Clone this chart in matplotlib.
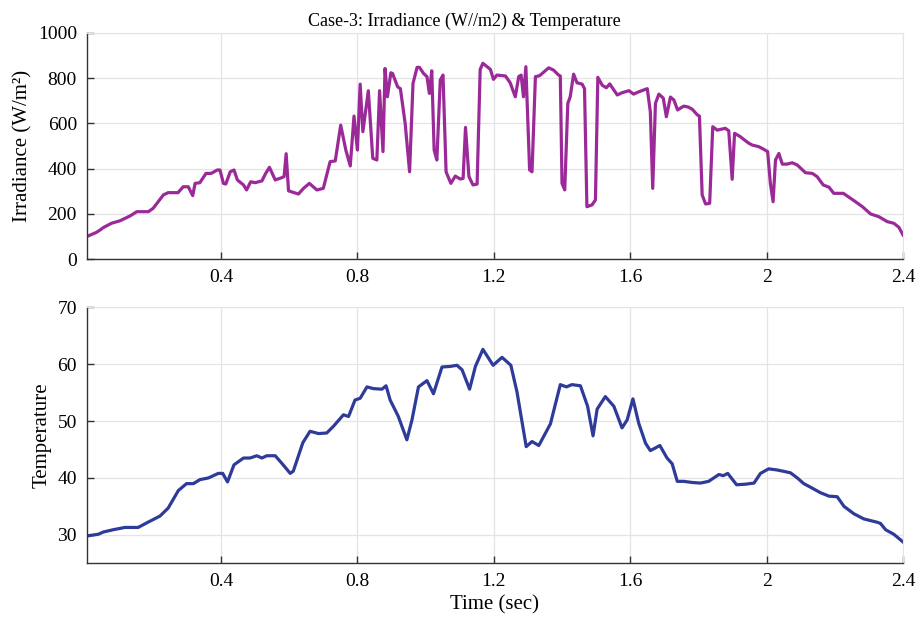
import numpy as np
import matplotlib
matplotlib.use("Agg")
import matplotlib.pyplot as plt

plt.rcParams['font.family'] = ['Liberation Serif', 'DejaVu Serif']

# irradiance (W/m2) vs time (sec)
irr_t = [0.006, 0.035, 0.045, 0.055, 0.079, 0.104, 0.133, 0.153, 0.187, 0.201,
         0.231, 0.245, 0.274, 0.289, 0.304, 0.317, 0.324, 0.338, 0.356, 0.371,
         0.389, 0.397, 0.407, 0.414, 0.427, 0.438, 0.448, 0.466, 0.475, 0.487,
         0.500, 0.520, 0.531, 0.542, 0.559, 0.578, 0.585, 0.591, 0.598, 0.627,
         0.642, 0.659, 0.681, 0.700, 0.720, 0.735, 0.751, 0.766, 0.779, 0.790,
         0.800, 0.808, 0.816, 0.832, 0.845, 0.857, 0.865, 0.875, 0.881, 0.888,
         0.898, 0.903, 0.918, 0.926, 0.940, 0.953, 0.963, 0.975, 0.982, 0.994,
         1.004, 1.011, 1.018, 1.025, 1.033, 1.043, 1.051, 1.060, 1.074, 1.087,
         1.102, 1.110, 1.117, 1.127, 1.139, 1.151, 1.160, 1.168, 1.190, 1.199,
         1.209, 1.234, 1.248, 1.263, 1.273, 1.280, 1.287, 1.294, 1.305, 1.312,
         1.322, 1.334, 1.361, 1.375, 1.390, 1.395, 1.400, 1.408, 1.417, 1.424,
         1.434, 1.444, 1.459, 1.466, 1.473, 1.488, 1.498, 1.505, 1.518, 1.530,
         1.540, 1.562, 1.576, 1.596, 1.610, 1.625, 1.650, 1.659, 1.666, 1.674,
         1.684, 1.697, 1.706, 1.718, 1.728, 1.739, 1.757, 1.770, 1.782, 1.797,
         1.803, 1.811, 1.821, 1.833, 1.842, 1.855, 1.879, 1.889, 1.899, 1.906,
         1.923, 1.938, 1.948, 1.958, 1.977, 1.992, 2.003, 2.011, 2.019, 2.026,
         2.036, 2.046, 2.060, 2.075, 2.090, 2.114, 2.134, 2.148, 2.166, 2.183,
         2.197, 2.225, 2.256, 2.281, 2.305, 2.329, 2.354, 2.373, 2.388, 2.400]
irr = [100, 119, 129, 140, 159, 170, 191, 210, 210, 225,
       284, 294, 294, 320, 320, 281, 335, 338, 379, 379,
       394, 394, 335, 332, 386, 394, 350, 328, 306, 342,
       338, 346, 379, 406, 350, 360, 365, 466, 302, 288,
       313, 335, 306, 313, 431, 434, 592, 482, 412, 632,
       482, 773, 563, 744, 446, 438, 744, 475, 842, 717,
       823, 820, 761, 753, 600, 386, 776, 847, 847, 820,
       806, 732, 832, 482, 438, 791, 813, 386, 335, 367,
       354, 357, 582, 365, 328, 332, 838, 865, 838, 794,
       813, 809, 779, 717, 806, 813, 717, 850, 394, 386,
       806, 810, 845, 835, 813, 809, 335, 306, 688, 717,
       817, 779, 773, 753, 232, 240, 262, 803, 768, 757,
       774, 725, 735, 744, 729, 739, 753, 651, 313, 688,
       729, 711, 629, 716, 703, 659, 676, 672, 662, 637,
       632, 284, 244, 247, 585, 570, 578, 567, 353, 556,
       541, 523, 512, 504, 497, 485, 475, 335, 254, 438,
       467, 420, 420, 426, 416, 382, 379, 365, 328, 318,
       291, 291, 259, 232, 200, 188, 166, 159, 141, 107]

# temperature vs time (sec)
temp_t = [0.006, 0.040, 0.055, 0.084, 0.118, 0.157, 0.182, 0.221, 0.245, 0.275,
          0.299, 0.319, 0.338, 0.363, 0.392, 0.405, 0.419, 0.438, 0.466, 0.485,
          0.505, 0.520, 0.534, 0.559, 0.578, 0.603, 0.612, 0.640, 0.661, 0.686,
          0.710, 0.730, 0.759, 0.774, 0.793, 0.808, 0.828, 0.847, 0.872, 0.884,
          0.896, 0.920, 0.945, 0.960, 0.979, 1.004, 1.023, 1.048, 1.072, 1.092,
          1.107, 1.129, 1.146, 1.168, 1.198, 1.224, 1.250, 1.268, 1.295, 1.312,
          1.332, 1.366, 1.395, 1.413, 1.429, 1.454, 1.475, 1.491, 1.503, 1.527,
          1.552, 1.576, 1.591, 1.608, 1.625, 1.645, 1.659, 1.687, 1.708, 1.723,
          1.738, 1.757, 1.782, 1.806, 1.830, 1.860, 1.873, 1.886, 1.912, 1.938,
          1.963, 1.982, 2.006, 2.031, 2.055, 2.070, 2.090, 2.109, 2.134, 2.158,
          2.183, 2.207, 2.227, 2.256, 2.285, 2.325, 2.334, 2.349, 2.373, 2.401]
temp = [29.8, 30.1, 30.5, 30.9, 31.3, 31.3, 32.1, 33.3, 34.7, 37.8,
        39.0, 39.0, 39.7, 40.0, 40.8, 40.8, 39.3, 42.3, 43.5, 43.5,
        43.9, 43.5, 43.9, 43.9, 42.6, 40.8, 41.2, 46.2, 48.2, 47.8,
        47.9, 49.1, 51.1, 50.8, 53.7, 54.0, 56.0, 55.7, 55.6, 56.2,
        53.7, 50.8, 46.7, 50.2, 56.0, 57.1, 54.8, 59.5, 59.6, 59.8,
        59.0, 55.6, 59.6, 62.6, 59.8, 61.2, 59.8, 55.1, 45.5, 46.4,
        45.7, 49.5, 56.4, 56.0, 56.4, 56.2, 52.6, 47.4, 52.1, 54.3,
        52.6, 48.8, 50.2, 53.9, 49.6, 46.1, 44.8, 45.7, 43.5, 42.5,
        39.4, 39.4, 39.2, 39.1, 39.4, 40.6, 40.4, 40.8, 38.8, 38.9,
        39.1, 40.8, 41.6, 41.4, 41.1, 40.9, 40.0, 39.0, 38.2, 37.4,
        36.8, 36.7, 35.0, 33.7, 32.8, 32.2, 32.0, 30.9, 30.1, 28.7]

x_ticks = [0.4, 0.8, 1.2, 1.6, 2.0, 2.4]
x_labels = ['0.4', '0.8', '1.2', '1.6', '2', '2.4']

fig = plt.figure(figsize=(9.19, 6.24), dpi=100)
ax1 = fig.add_axes([0.0943, 0.5845, 0.8883, 0.3631])
ax2 = fig.add_axes([0.0943, 0.0973, 0.8883, 0.4103])


def style(ax):
    ax.set_xlim(0.006, 2.4)
    ax.set_xticks(x_ticks)
    ax.set_xticklabels(x_labels)
    ax.grid(True, color='#e4e4e4', linewidth=0.9)
    ax.set_axisbelow(True)
    for s in ['top', 'right']:
        ax.spines[s].set_color('#e4e4e4')
    for s in ['left', 'bottom']:
        ax.spines[s].set_color('#333333')
        ax.spines[s].set_linewidth(1.0)
    ax.tick_params(direction='in', length=5, width=1, color='#333333',
                   labelsize=14, pad=7, top=False, right=False)


ax1.plot(irr_t, irr, color='#9b2a98', linewidth=2.3, solid_joinstyle='round')
style(ax1)
ax1.set_ylim(0, 1000)
ax1.set_yticks([0, 200, 400, 600, 800, 1000])
ax1.set_ylabel('Irradiance (W/m²)', fontsize=15)
ax1.set_title('Case-3: Irradiance (W//m2) & Temperature', fontsize=13,
              x=0.463, pad=5)

ax2.plot(temp_t, temp, color='#2e3b98', linewidth=2.3, solid_joinstyle='round')
style(ax2)
ax2.set_ylim(25, 70)
ax2.set_yticks([30, 40, 50, 60, 70])
ax2.set_ylabel('Temperature', fontsize=15)
ax2.set_xlabel('Time (sec)', fontsize=15)

fig.savefig('out.png', dpi=100)
